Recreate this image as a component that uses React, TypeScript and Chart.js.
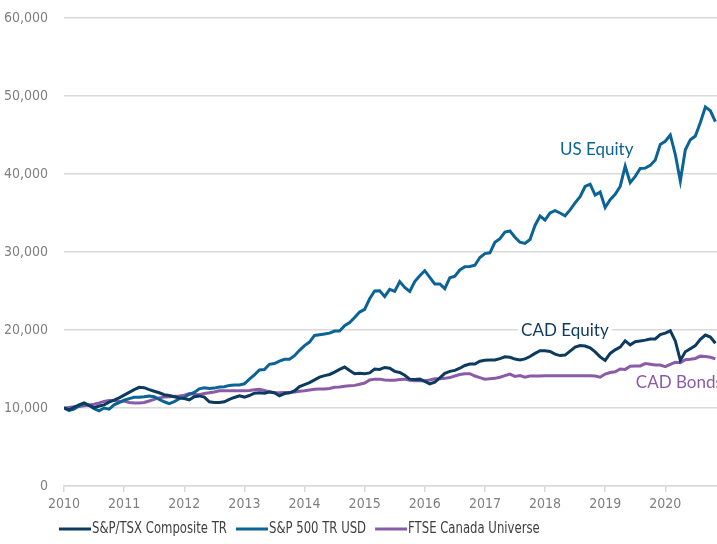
import React, { useEffect, useRef } from 'react';
import { Chart, registerables } from 'chart.js';

Chart.register(...registerables);

// Monthly growth of $10,000, first point = start of 2010, one point per month
const START_YEAR = 2010;

const tsxValues = [
  10000, 9750, 10100, 10400, 10650, 10350, 10050, 10250, 10400, 10750, 11000, 11300,
  11650, 12000, 12350, 12650, 12600, 12350, 12150, 11950, 11700, 11600, 11450, 11300,
  11200, 11050, 11450, 11550, 11400, 10800, 10700, 10700, 10800, 11100, 11350, 11550,
  11400, 11600, 11900, 11950, 11900, 12050, 11950, 11550, 11850, 11950, 12200, 12750,
  13000, 13250, 13600, 13950, 14150, 14300, 14600, 14950, 15250, 14800, 14400, 14450,
  14400, 14500, 15000, 14950, 15200, 15100, 14700, 14550, 14200, 13700, 13650, 13700,
  13400, 13100, 13300, 13850, 14450, 14700, 14820, 15100, 15450, 15640, 15640, 16000,
  16120, 16150, 16150, 16330, 16560, 16500, 16270, 16150, 16300, 16600, 17000, 17350,
  17350, 17250, 16900, 16720, 16780, 17300, 17800, 18000, 17950, 17700, 17200, 16550,
  16100, 17000, 17450, 17800, 18600, 18100, 18500, 18600, 18700, 18850, 18850, 19400,
  19600, 19900, 18600, 16100, 17200, 17600, 18000, 18800, 19350, 19100, 18300,
];

const sp500Values = [
  10000, 9700, 9870, 10250, 10600, 10350, 9900, 9650, 10000, 9850, 10400, 10700,
  11000, 11200, 11370, 11370, 11450, 11550, 11450, 11100, 10800, 10550, 10800, 11200,
  11350, 11750, 12000, 12450, 12600, 12500, 12550, 12680, 12720, 12900, 12950, 12950,
  13100, 13700, 14250, 14870, 14930, 15600, 15700, 16000, 16240, 16240, 16700, 17400,
  18000, 18450, 19300, 19400, 19500, 19600, 19870, 19870, 20550, 20950, 21600, 22300,
  22650, 24000, 25000, 25040, 24300, 25200, 24950, 26200, 25450, 24950, 26200, 26950,
  27600, 26750, 25900, 25900, 25300, 26700, 26900, 27700, 28100, 28150, 28300, 29300,
  29800, 29900, 31250, 31700, 32550, 32690, 31900, 31250, 31100, 31600, 33400, 34600,
  34100, 35000, 35300, 35000, 34650, 35400, 36300, 37100, 38400, 38700, 37300, 37700,
  35700, 36700, 37400, 38400, 41000, 38900, 39700, 40700, 40750, 41100, 41800, 43800,
  44200, 45000, 42500, 39100, 43100, 44400, 44870, 46600, 48600, 48100, 46700,
];

const ftseValues = [
  10000, 10080, 10150, 10200, 10300, 10380, 10480, 10650, 10850, 10950, 10950, 10800,
  10900, 10700, 10650, 10650, 10700, 10900, 11100, 11300, 11400, 11450, 11500, 11550,
  11650, 11850, 11750, 11700, 11850, 11950, 12050, 12200, 12200, 12200, 12200, 12200,
  12200, 12250, 12350, 12400, 12250, 12100, 11950, 11950, 12000, 12000, 12050, 12150,
  12200, 12300, 12400, 12450, 12450, 12500, 12650, 12700, 12800, 12850, 12900, 13050,
  13200, 13600, 13700, 13700, 13600, 13550, 13550, 13650, 13700, 13550, 13500, 13500,
  13500, 13600, 13750, 13750, 13800, 13900, 14100, 14300, 14400, 14400, 14100, 13900,
  13700, 13750, 13800, 13950, 14150, 14350, 14050, 14150, 13950, 14100, 14100, 14100,
  14150, 14150, 14150, 14150, 14150, 14150, 14150, 14150, 14150, 14150, 14100, 13950,
  14350, 14550, 14650, 15000, 14950, 15350, 15400, 15400, 15700, 15600, 15500, 15500,
  15300, 15600, 15850, 15800, 16200, 16250, 16350, 16650, 16600, 16500, 16300,
];

const seriesNames = ['S&P/TSX Composite TR', 'S&P 500 TR USD', 'FTSE Canada Universe'];
const seriesColors = ['#0d3a5f', '#0b6396', '#8a5ca8'];

const yTickValues = [0, 10000, 20000, 30000, 40000, 50000, 60000];
const xYears = [2010, 2011, 2012, 2013, 2014, 2015, 2016, 2017, 2018, 2019, 2020];

const annoTexts = ['US Equity', 'CAD Equity', 'CAD Bonds'];
const annoX = [2018.86, 2018.33, 2019.51];
const annoY = [43300, 20000, 13370];
const annoAlign: CanvasTextAlign[] = ['center', 'center', 'left'];
const annoColors = ['#0b6396', '#0d3a5f', '#8a5ca8'];

const FONT = '"Liberation Sans Narrow", "DejaVu Sans Condensed", "Roboto", sans-serif';
const ANNO_FONT = '17px Lato, "Open Sans", sans-serif';
const LEGEND_SQUEEZE = 0.865;

const toPoints = (vals: number[]) =>
  vals.map((v, i) => ({ x: START_YEAR + i / 12, y: v }));

const annotationPlugin = {
  id: 'textAnnotations',
  afterDatasetsDraw(chart: any) {
    const { ctx, scales } = chart;
    ctx.save();
    ctx.font = ANNO_FONT;
    ctx.textBaseline = 'middle';
    annoTexts.forEach((t, k) => {
      const px = scales.x.getPixelForValue(annoX[k]);
      const py = scales.y.getPixelForValue(annoY[k]);
      const w = ctx.measureText(t).width;
      const left = annoAlign[k] === 'center' ? px - w / 2 : px;
      ctx.fillStyle = '#ffffff';
      ctx.fillRect(left - 3, py - 10, w + 6, 20);
      ctx.fillStyle = annoColors[k];
      ctx.textAlign = 'left';
      ctx.fillText(t, left, py + 1);
    });
    ctx.restore();
  },
};

const legendPlugin = {
  id: 'bottomLegend',
  afterDraw(chart: any) {
    const { ctx, chartArea } = chart;
    ctx.save();
    ctx.font = '15px ' + FONT;
    ctx.textBaseline = 'middle';
    let x = chartArea.left - 5;
    const y = 529;
    seriesNames.forEach((name, k) => {
      ctx.strokeStyle = seriesColors[k];
      ctx.lineWidth = 3;
      ctx.beginPath();
      ctx.moveTo(x, y);
      ctx.lineTo(x + 32, y);
      ctx.stroke();
      x += 33;
      ctx.fillStyle = '#404040';
      ctx.save();
      ctx.translate(x, y);
      ctx.scale(LEGEND_SQUEEZE, 1);
      ctx.fillText(name, 0, 0);
      ctx.restore();
      x += ctx.measureText(name).width * LEGEND_SQUEEZE + 9;
    });
    ctx.restore();
  },
};

export default function App() {
  const ref = useRef<HTMLCanvasElement | null>(null);

  useEffect(() => {
    if (!ref.current) return;
    const chart = new Chart(ref.current, {
      type: 'line',
      data: {
        datasets: [
          { label: seriesNames[0], data: toPoints(tsxValues), borderColor: seriesColors[0], backgroundColor: seriesColors[0] },
          { label: seriesNames[1], data: toPoints(sp500Values), borderColor: seriesColors[1], backgroundColor: seriesColors[1] },
          { label: seriesNames[2], data: toPoints(ftseValues), borderColor: seriesColors[2], backgroundColor: seriesColors[2] },
        ].map((d) => ({ ...d, borderWidth: 3, pointRadius: 0, tension: 0, fill: false })),
      },
      options: {
        responsive: false,
        animation: false,
        layout: { padding: { top: 18, right: 0, bottom: 28, left: 0 } },
        plugins: {
          legend: { display: false },
          tooltip: { enabled: false },
        },
        scales: {
          x: {
            type: 'linear',
            min: xYears[0],
            max: 2020.86,
            afterFit: (s: any) => { s.height = 30; s.paddingLeft = 0; s.paddingRight = 0; },
            afterBuildTicks: (s: any) => { s.ticks = xYears.map((v) => ({ value: v })); },
            ticks: {
              includeBounds: false,
              stepSize: 1,
              autoSkip: false,
              maxRotation: 0,
              padding: 4,
              color: '#7f7f7f',
              font: { family: FONT, size: 14 },
              callback: (v: any) => String(v),
            },
            grid: { drawOnChartArea: false, drawTicks: true, tickLength: 6, color: '#d9d9d9', lineWidth: 1.5 },
            border: { display: true, color: '#d9d9d9', width: 1.5 },
          },
          y: {
            min: 0,
            max: 60000,
            afterFit: (s: any) => { s.width = 64; s.paddingTop = 0; s.paddingBottom = 0; },
            afterBuildTicks: (s: any) => { s.ticks = yTickValues.map((v) => ({ value: v })); },
            ticks: {
              padding: 16,
              color: '#7f7f7f',
              font: { family: FONT, size: 14 },
              callback: (v: any) => Number(v).toLocaleString('en-US'),
            },
            grid: { drawTicks: false, color: '#d9d9d9', lineWidth: 1.5 },
            border: { display: false },
          },
        },
      },
      plugins: [annotationPlugin, legendPlugin],
    } as any);
    return () => chart.destroy();
  }, []);

  return (
    <div style={{ position: 'absolute', left: 0, top: 0, width: 717, height: 544, background: '#fff' }}>
      <canvas ref={ref} width={717} height={544} />
    </div>
  );
}
